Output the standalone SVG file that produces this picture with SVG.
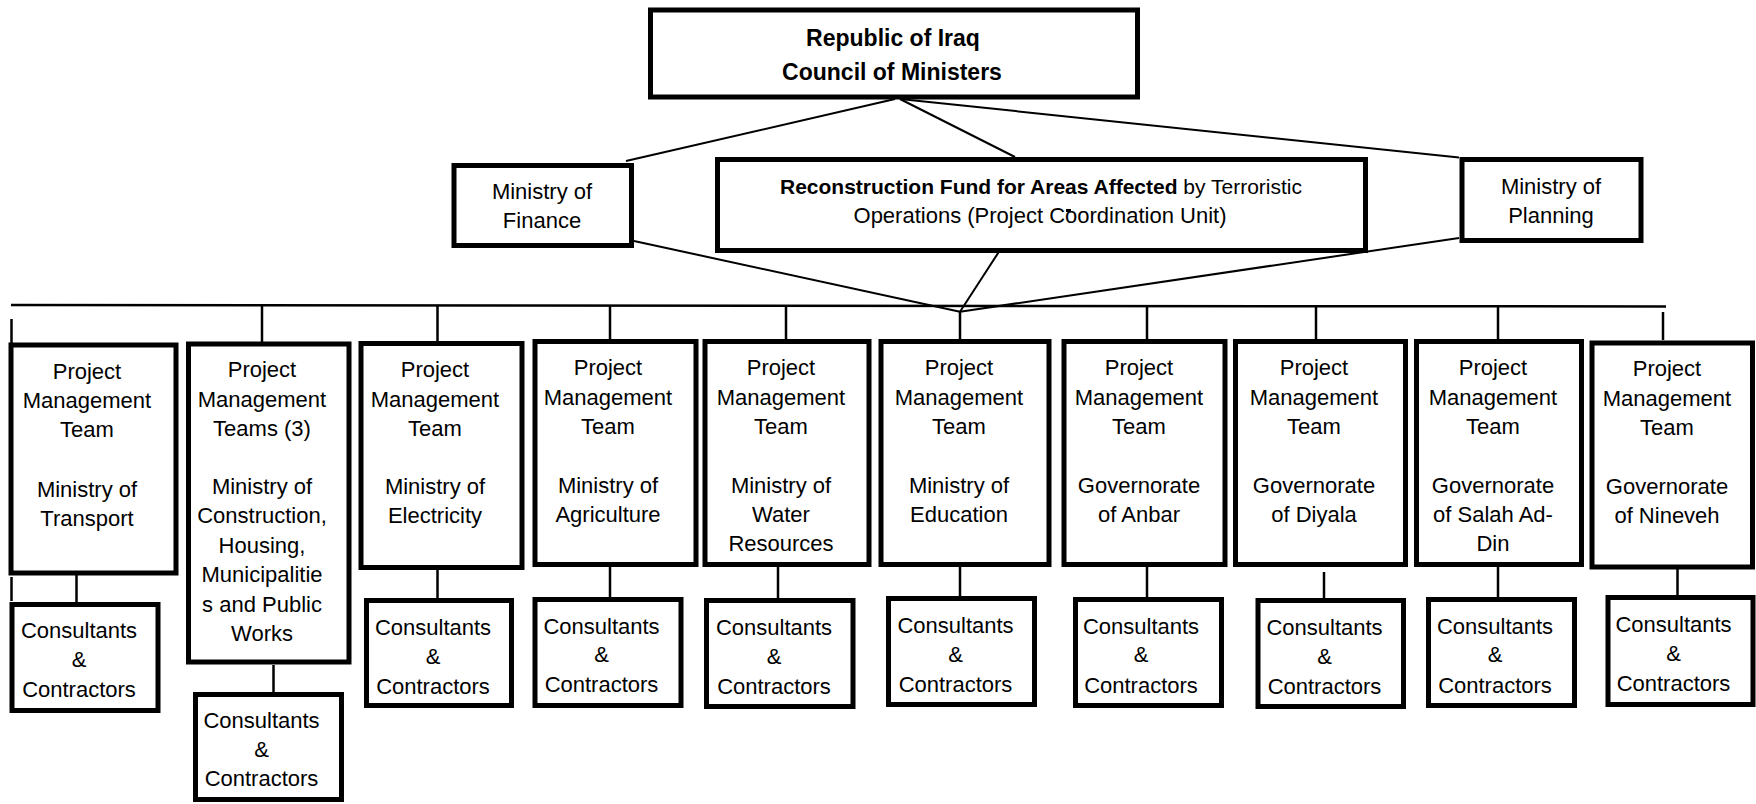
<svg xmlns="http://www.w3.org/2000/svg" width="1756" height="804" viewBox="0 0 1756 804">
<style>
.box{fill:#fff;stroke:#000;stroke-width:5}
.t{font-family:"Liberation Sans",Arial,sans-serif;font-size:22px;fill:#000;text-anchor:middle}
.b{font-weight:bold}
.c{stroke:#000;stroke-width:2;fill:none}
.v{stroke:#000;stroke-width:2.5;fill:none}
</style>
<rect width="1756" height="804" fill="#fff"/>
<g id="connectors">
<line class="c" x1="895" y1="99" x2="626" y2="161"/>
<line class="c" x1="900" y1="99" x2="1015" y2="157"/>
<line class="c" x1="900" y1="99" x2="1459" y2="157.5"/>
<line class="c" x1="634" y1="241" x2="960" y2="311.7"/>
<line class="c" x1="1002" y1="247" x2="960" y2="311.7"/>
<line class="c" x1="1459" y1="238" x2="960" y2="311.7"/>
<line class="v" x1="11" y1="305" x2="1666" y2="306.5"/>
<line class="v" x1="11.5" y1="319" x2="11.5" y2="343"/>
<line class="v" x1="262" y1="306" x2="262" y2="342"/>
<line class="v" x1="437.5" y1="306" x2="437.5" y2="341"/>
<line class="v" x1="610" y1="306" x2="610" y2="340"/>
<line class="v" x1="786" y1="306" x2="786" y2="340"/>
<line class="v" x1="960" y1="311.7" x2="960" y2="340"/>
<line class="v" x1="1147" y1="306" x2="1147" y2="340"/>
<line class="v" x1="1316" y1="306" x2="1316" y2="340"/>
<line class="v" x1="1498" y1="306" x2="1498" y2="340"/>
<line class="v" x1="1663" y1="312" x2="1663" y2="340"/>
<line class="v" x1="76.5" y1="575" x2="76.5" y2="603"/>
<line class="v" x1="11.5" y1="577" x2="11.5" y2="601"/>
<line class="v" x1="273.5" y1="665" x2="273.5" y2="693"/>
<line class="v" x1="437.5" y1="570" x2="437.5" y2="599"/>
<line class="v" x1="610" y1="567" x2="610" y2="598"/>
<line class="v" x1="778" y1="567" x2="778" y2="599"/>
<line class="v" x1="960" y1="567" x2="960" y2="597"/>
<line class="v" x1="1147" y1="567" x2="1147" y2="598"/>
<line class="v" x1="1324" y1="572" x2="1324" y2="599"/>
<line class="v" x1="1498" y1="567" x2="1498" y2="598"/>
<line class="v" x1="1677.5" y1="569" x2="1677.5" y2="596"/>
</g>
<g id="council">
<rect class="box" x="650.5" y="10" width="487" height="87"/>
<text class="t b" x="893" y="46" style="font-size:23px">Republic of Iraq</text>
<text class="t b" x="892" y="80" style="font-size:23px">Council of Ministers</text>
</g>
<g id="finance">
<rect class="box" x="454" y="165.5" width="177.5" height="80"/>
<text class="t" x="542" y="199">Ministry of</text>
<text class="t" x="542" y="228">Finance</text>
</g>
<g id="reconstruction">
<rect class="box" x="717.5" y="159.5" width="648" height="91"/>
<text class="t" x="1041" y="194" style="font-size:21px"><tspan class="b">Reconstruction Fund for Areas Affected</tspan> by Terroristic</text>
<text class="t" x="1040" y="222.5">Operations (Project Coordination Unit)</text>
<rect x="1066" y="209" width="5" height="3" fill="#000"/>
</g>
<g id="planning">
<rect class="box" x="1462" y="159.5" width="179" height="81"/>
<text class="t" x="1551" y="194">Ministry of</text>
<text class="t" x="1551" y="222.5">Planning</text>
</g>
<g id="pmt-transport">
<rect class="box" x="11" y="345" width="165" height="228"/>
<text class="t" x="87" y="379">Project</text>
<text class="t" x="87" y="408">Management</text>
<text class="t" x="87" y="436.5">Team</text>
<text class="t" x="87" y="496.5">Ministry of</text>
<text class="t" x="87" y="526">Transport</text>
</g>
<g id="cc-transport">
<rect class="box" x="12" y="604.5" width="146" height="106"/>
<text class="t" x="79" y="638">Consultants</text>
<text class="t" x="79" y="667">&amp;</text>
<text class="t" x="79" y="696.5">Contractors</text>
</g>
<g id="pmt-construction">
<rect class="box" x="188.5" y="344" width="160.5" height="318"/>
<text class="t" x="262" y="377">Project</text>
<text class="t" x="262" y="406.5">Management</text>
<text class="t" x="262" y="436">Teams (3)</text>
<text class="t" x="262" y="494">Ministry of</text>
<text class="t" x="262" y="523">Construction,</text>
<text class="t" x="262" y="553">Housing,</text>
<text class="t" x="262" y="582">Municipalitie</text>
<text class="t" x="262" y="611.5">s and Public</text>
<text class="t" x="262" y="640.5">Works</text>
</g>
<g id="cc-construction">
<rect class="box" x="195.5" y="694.5" width="146" height="105"/>
<text class="t" x="261.5" y="728">Consultants</text>
<text class="t" x="261.5" y="757">&amp;</text>
<text class="t" x="261.5" y="786">Contractors</text>
</g>
<g id="pmt-electricity">
<rect class="box" x="361" y="343.5" width="161" height="224"/>
<text class="t" x="435" y="377">Project</text>
<text class="t" x="435" y="406.5">Management</text>
<text class="t" x="435" y="436">Team</text>
<text class="t" x="435" y="494">Ministry of</text>
<text class="t" x="435" y="523">Electricity</text>
</g>
<g id="cc-electricity">
<rect class="box" x="366.5" y="600.5" width="145" height="105"/>
<text class="t" x="433" y="635">Consultants</text>
<text class="t" x="433" y="664">&amp;</text>
<text class="t" x="433" y="694">Contractors</text>
</g>
<g id="pmt-agriculture">
<rect class="box" x="535" y="341.5" width="161" height="223"/>
<text class="t" x="608" y="375">Project</text>
<text class="t" x="608" y="405">Management</text>
<text class="t" x="608" y="434">Team</text>
<text class="t" x="608" y="493">Ministry of</text>
<text class="t" x="608" y="522">Agriculture</text>
</g>
<g id="cc-agriculture">
<rect class="box" x="535" y="599.5" width="146" height="106"/>
<text class="t" x="601.5" y="634">Consultants</text>
<text class="t" x="601.5" y="662">&amp;</text>
<text class="t" x="601.5" y="692">Contractors</text>
</g>
<g id="pmt-water">
<rect class="box" x="705" y="341.5" width="164" height="223"/>
<text class="t" x="781" y="375">Project</text>
<text class="t" x="781" y="405">Management</text>
<text class="t" x="781" y="434">Team</text>
<text class="t" x="781" y="493">Ministry of</text>
<text class="t" x="781" y="522">Water</text>
<text class="t" x="781" y="551">Resources</text>
</g>
<g id="cc-water">
<rect class="box" x="706.5" y="600.5" width="146.5" height="106"/>
<text class="t" x="774" y="635">Consultants</text>
<text class="t" x="774" y="664">&amp;</text>
<text class="t" x="774" y="694">Contractors</text>
</g>
<g id="pmt-education">
<rect class="box" x="881" y="341.5" width="168" height="223"/>
<text class="t" x="959" y="375">Project</text>
<text class="t" x="959" y="405">Management</text>
<text class="t" x="959" y="434">Team</text>
<text class="t" x="959" y="493">Ministry of</text>
<text class="t" x="959" y="522">Education</text>
</g>
<g id="cc-education">
<rect class="box" x="888.5" y="598.5" width="146" height="106"/>
<text class="t" x="955.5" y="633">Consultants</text>
<text class="t" x="955.5" y="662">&amp;</text>
<text class="t" x="955.5" y="692">Contractors</text>
</g>
<g id="pmt-anbar">
<rect class="box" x="1064" y="341.5" width="161" height="223"/>
<text class="t" x="1139" y="375">Project</text>
<text class="t" x="1139" y="405">Management</text>
<text class="t" x="1139" y="434">Team</text>
<text class="t" x="1139" y="493">Governorate</text>
<text class="t" x="1139" y="522">of Anbar</text>
</g>
<g id="cc-anbar">
<rect class="box" x="1075.5" y="599.5" width="146" height="106"/>
<text class="t" x="1141" y="634">Consultants</text>
<text class="t" x="1141" y="662">&amp;</text>
<text class="t" x="1141" y="693">Contractors</text>
</g>
<g id="pmt-diyala">
<rect class="box" x="1235.5" y="341.5" width="170" height="223"/>
<text class="t" x="1314" y="375">Project</text>
<text class="t" x="1314" y="405">Management</text>
<text class="t" x="1314" y="434">Team</text>
<text class="t" x="1314" y="493">Governorate</text>
<text class="t" x="1314" y="522">of Diyala</text>
</g>
<g id="cc-diyala">
<rect class="box" x="1258" y="600.5" width="145.5" height="106"/>
<text class="t" x="1324.5" y="635">Consultants</text>
<text class="t" x="1324.5" y="664">&amp;</text>
<text class="t" x="1324.5" y="694">Contractors</text>
</g>
<g id="pmt-salahaddin">
<rect class="box" x="1416.5" y="341.5" width="165" height="223"/>
<text class="t" x="1493" y="375">Project</text>
<text class="t" x="1493" y="405">Management</text>
<text class="t" x="1493" y="434">Team</text>
<text class="t" x="1493" y="493">Governorate</text>
<text class="t" x="1493" y="522">of Salah Ad-</text>
<text class="t" x="1493" y="551">Din</text>
</g>
<g id="cc-salahaddin">
<rect class="box" x="1428.5" y="599.5" width="146" height="106"/>
<text class="t" x="1495" y="634">Consultants</text>
<text class="t" x="1495" y="662">&amp;</text>
<text class="t" x="1495" y="693">Contractors</text>
</g>
<g id="pmt-nineveh">
<rect class="box" x="1592" y="343" width="160.5" height="224"/>
<text class="t" x="1667" y="376">Project</text>
<text class="t" x="1667" y="406">Management</text>
<text class="t" x="1667" y="434.5">Team</text>
<text class="t" x="1667" y="494">Governorate</text>
<text class="t" x="1667" y="522.5">of Nineveh</text>
</g>
<g id="cc-nineveh">
<rect class="box" x="1608" y="597.5" width="145" height="107"/>
<text class="t" x="1673.5" y="632">Consultants</text>
<text class="t" x="1673.5" y="661">&amp;</text>
<text class="t" x="1673.5" y="691">Contractors</text>
</g>
</svg>
